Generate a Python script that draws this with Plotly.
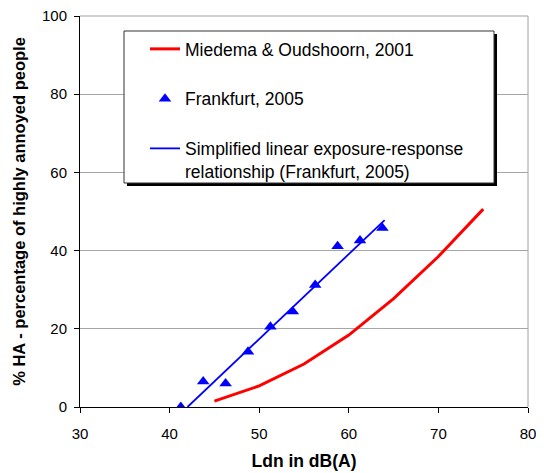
import plotly.graph_objects as go

# ---- data ----
miedema_x = [45, 50, 55, 60, 65, 70, 75]
miedema_y = [1.5, 5.4, 11.0, 18.4, 27.7, 38.5, 50.6]

frankfurt_x = [41.25, 43.75, 46.25, 48.75, 51.25, 53.75, 56.25, 58.75, 61.25, 63.75]
frankfurt_y = [0.0, 6.5, 6.0, 14.1, 20.5, 24.4, 31.2, 41.1, 42.6, 45.8]

linear_x = [42.0, 64.0]
linear_y = [0.0, 47.8]

x_ticks = [30, 40, 50, 60, 70, 80]
y_ticks = [0, 20, 40, 60, 80, 100]

names = [
    "Miedema & Oudshoorn, 2001",
    "Frankfurt, 2005",
    "Simplified linear exposure-response<br>relationship (Frankfurt, 2005)",
]

FONT = "Liberation Sans, Arial, sans-serif"

fig = go.Figure()
fig.add_trace(go.Scatter(x=miedema_x, y=miedema_y, mode="lines", name=names[0],
                         line=dict(color="#ff0000", width=3), legendgroup="a"))
fig.add_trace(go.Scatter(x=frankfurt_x, y=frankfurt_y, mode="markers", name=names[1],
                         marker=dict(symbol="triangle-up", size=11, color="#0000ff"),
                         legendgroup="b"))
fig.add_trace(go.Scatter(x=linear_x, y=linear_y, mode="lines", name=names[2],
                         line=dict(color="#0000ff", width=1.8), legendgroup="c"))

# page body has an 8px margin; figure is sized to fit the 544x473 window
OFF = 8
W, H = 544 - OFF, 473 - OFF
L, R, T, B = 80 - OFF, 16, 16 - OFF, 66
pw, ph = W - L - R, H - T - B

def px2paper(px, py):
    # px, py in window pixels
    fx, fy = px - OFF, py - OFF
    return (fx - L) / pw, (H - B - fy) / ph

# legend box with shadow
bx0, by0 = px2paper(124, 31)
bx1, by1 = px2paper(494, 183)
sx0, sy0 = px2paper(127, 34)
sx1, sy1 = px2paper(497, 186)
shapes = [
    # top and right plot border (gray)
    dict(type="line", xref="paper", yref="paper", x0=0, y0=1, x1=1, y1=1,
         line=dict(color="#a0a0a0", width=1), layer="above"),
    dict(type="line", xref="paper", yref="paper", x0=1, y0=0, x1=1, y1=1,
         line=dict(color="#a0a0a0", width=1), layer="above"),
    # legend frame with shadow
    dict(type="rect", xref="paper", yref="paper", x0=sx0, y0=sy1, x1=sx1, y1=sy0,
         fillcolor="black", line=dict(width=0), layer="above"),
    dict(type="rect", xref="paper", yref="paper", x0=bx0, y0=by1, x1=bx1, y1=by0,
         fillcolor="white", line=dict(color="#333333", width=1), layer="above"),
]

lx, ly = px2paper(145, 31)

fig.update_layout(
    width=W, height=H,
    margin=dict(l=L, r=R, t=T, b=B, autoexpand=False),
    paper_bgcolor="white", plot_bgcolor="white",
    font=dict(family=FONT, color="black", size=15),
    shapes=shapes,
    showlegend=True,
    legend=dict(x=lx, y=ly, xanchor="left", yanchor="top",
                bgcolor="rgba(0,0,0,0)", borderwidth=0,
                font=dict(size=17.5, family=FONT),
                tracegroupgap=24, traceorder="grouped", valign="top",
                itemwidth=30),
    xaxis=dict(range=[30, 80], tickvals=x_ticks, showgrid=False, zeroline=False,
               showline=True, linecolor="black", linewidth=1, automargin=False,
               ticks="outside", ticklen=5, tickcolor="black",
               ticklabelstandoff=8, tickfont=dict(size=15),
               ticklabeloverflow="allow",
               title=dict(text="<b>Ldn in dB(A)</b>", font=dict(size=17.5), standoff=13)),
    yaxis=dict(range=[0, 100], tickvals=y_ticks, showgrid=True, gridcolor="#a6a6a6",
               zeroline=False, showline=True, linecolor="black", linewidth=1,
               automargin=False,
               ticks="outside", ticklen=5, tickcolor="black",
               ticklabelstandoff=4, tickfont=dict(size=15),
               ticklabeloverflow="allow",
               title=dict(text="<b>% HA - percentage of highly annoyed people</b>",
                          font=dict(size=16.5), standoff=12)),
)

fig.write_html("out.html")
